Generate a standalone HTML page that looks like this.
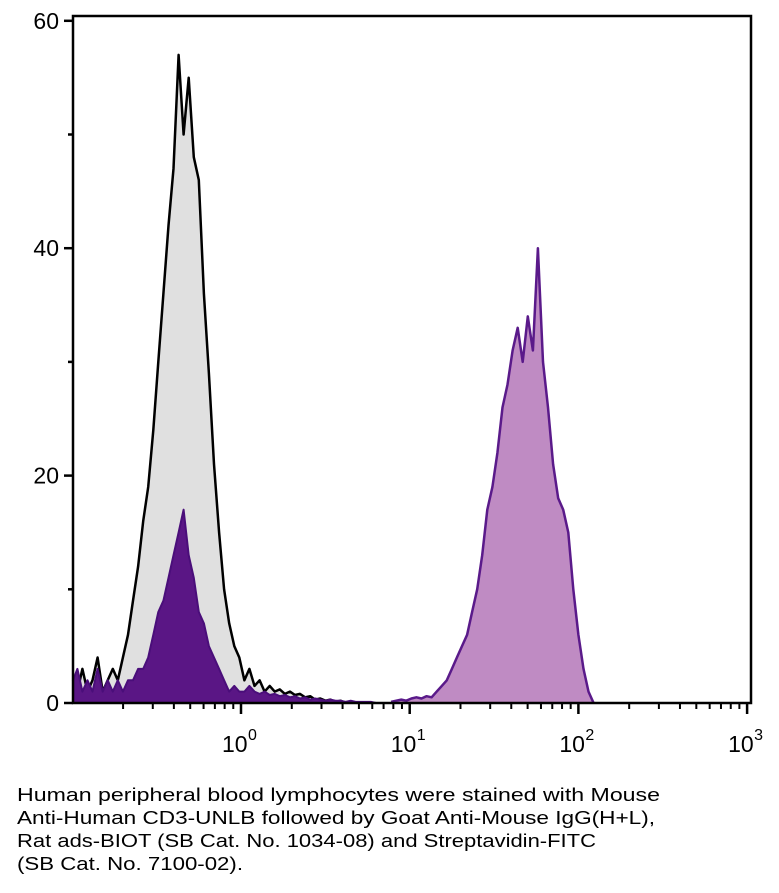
<!DOCTYPE html>
<html><head><meta charset="utf-8"><style>
body{margin:0;background:#fff;}
svg{display:block;font-family:"Liberation Sans",sans-serif;}
</style></head><body>
<svg id="chart" width="779" height="893" viewBox="0 0 779 893" xmlns="http://www.w3.org/2000/svg">
<g id="series"></g>
<g id="axes"></g>
<g font-size="18" fill="#000">
<text x="17" y="801" textLength="643" lengthAdjust="spacingAndGlyphs">Human peripheral blood lymphocytes were stained with Mouse</text>
<text x="17" y="824" textLength="638" lengthAdjust="spacingAndGlyphs">Anti-Human CD3-UNLB followed by Goat Anti-Mouse IgG(H+L),</text>
<text x="17" y="847" textLength="579" lengthAdjust="spacingAndGlyphs">Rat ads-BIOT (SB Cat. No. 1034-08) and Streptavidin-FITC</text>
<text x="17" y="870" textLength="226" lengthAdjust="spacingAndGlyphs">(SB Cat. No. 7100-02).</text>
</g>
</svg>
<script>
const logStep = 0.03;
const unstainedStart = -1.0;
const unstainedValues = [2,1,3,1,2,4,1,2,3,2,4,6,9,12,16,19,24,30,36,42,47,57,50,55,48,46,36,29,21,15,10,7,5,4,2,3,1.5,2,1,1.5,1,1.2,0.8,1,0.7,0.8,0.5,0.6,0.3,0.4,0.2,0.3,0.1,0.2,0];
const isotypeStart = -1.0;
const isotypeValues = [2,3,1,2,1,3,1,2,1,2,1,2,2,3,3,4,6,8,9,11,13,15,17,13,11,8,7,5,4,3,2,1,1.5,1,1,1.5,1,0.8,1,0.7,0.8,0.6,0.7,0.5,0.6,0.4,0.5,0.3,0.4,0.3,0.2,0.3,0.2,0.2,0.1,0.2,0.1,0.1,0.1,0.1,0];
const stainedStart = 0.89;
const stainedValues = [0.1,0.2,0.3,0.2,0.4,0.5,0.4,0.6,0.5,1,1.5,2,3,4,5,6,8,10,13,17,19,22,26,28,31,33,30,34,31,40,30,26,21,18,17,15,10,6,3,1,0];
const yTicksMajor = [0,20,40,60];
const yTicksMinor = [10,30,50];
const xDecades = [0,1,2,3];
const xDecadeLabels = ["10","10","10","10"];
const xDecadeExps = ["0","1","2","3"];

const L=73,R=751,T=16,B=703;
const X=lg=>241+lg*168.7;
const Y=v=>B-v*11.37;
const NS="http://www.w3.org/2000/svg";
const series=document.getElementById('series');
const axes=document.getElementById('axes');
function mk(tag,attrs,parent){const e=document.createElementNS(NS,tag);for(const k in attrs)e.setAttribute(k,attrs[k]);parent.appendChild(e);return e;}

function drawHist(start,vals,fill,stroke,sw,name){
  let pts=[];
  vals.forEach((v,i)=>{pts.push([Math.max(L,X(start+i*logStep)),Y(v)]);});
  const line=pts.map(p=>p[0].toFixed(1)+","+p[1].toFixed(1)).join(" ");
  const area=mk('polygon',{points:pts[0][0].toFixed(1)+","+B+" "+line+" "+pts[pts.length-1][0].toFixed(1)+","+B,fill:fill,stroke:'none'},series);
  
  
  const pl=mk('polyline',{points:line,fill:'none',stroke:stroke,'stroke-width':sw,'stroke-linejoin':'round'},series);
  
  
}
drawHist(unstainedStart,unstainedValues,'#e0e0e0','#000',2.5,'unstained-histogram');
drawHist(isotypeStart,isotypeValues,'#5a1685','#4a0e7a',2,'isotype-histogram');
drawHist(stainedStart,stainedValues,'#bf8bc3','#5a1a8a',2.5,'stained-histogram');

const frame=mk('rect',{x:L,y:T,width:R-L,height:B-T,fill:'none',stroke:'#000','stroke-width':2.5},axes);


yTicksMajor.forEach(v=>{
  const t=mk('line',{x1:L-9,x2:L,y1:Y(v),y2:Y(v),stroke:'#000','stroke-width':2.5},axes);
  
  
  const tx=mk('text',{x:L-14,y:Y(v)+8,'text-anchor':'end','font-size':23},axes);
  tx.textContent=v;
  
  
});
yTicksMinor.forEach(v=>{
  const t=mk('line',{x1:L-5,x2:L,y1:Y(v),y2:Y(v),stroke:'#000','stroke-width':2.5},axes);
  
  
});
for(let d=-1; d<3; d++){
  for(let m=2;m<=9;m++){
    const x=X(d+Math.log10(m));
    if(x<L)continue;
    const t=mk('line',{x1:x,x2:x,y1:B,y2:B+6,stroke:'#000','stroke-width':2},axes);
    
    
  }
}
xDecades.forEach((d,i)=>{
  const x=X(d);
  const t=mk('line',{x1:x,x2:x,y1:B,y2:B+11,stroke:'#000','stroke-width':2.5},axes);
  
  
  const tx=mk('text',{x:x-19,y:752,'font-size':23},axes);
  tx.textContent=xDecadeLabels[i];
  
  
  const ex=mk('text',{x:x+7,y:740,'font-size':16},axes);
  ex.textContent=xDecadeExps[i];
  
  
});
</script>
</body></html>
